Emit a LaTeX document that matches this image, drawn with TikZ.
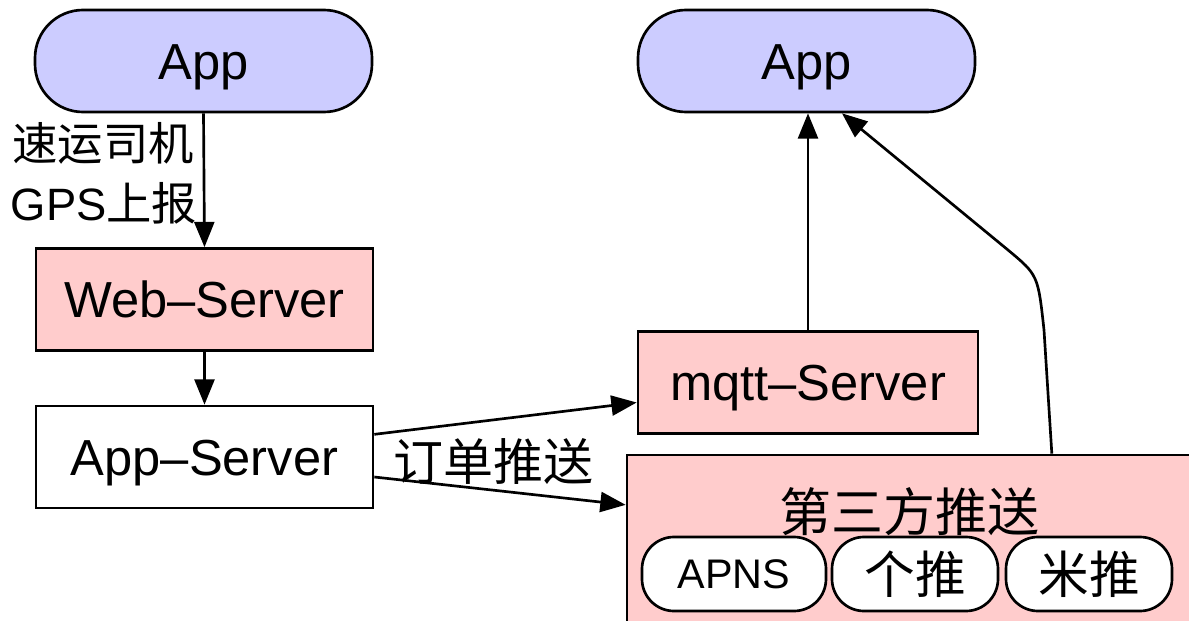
\documentclass[tikz,border=0pt]{standalone}
\usepackage{fontspec}
\setmainfont{Liberation Sans}
\newfontfamily\cjk{Noto Sans CJK SC}
\usetikzlibrary{arrows.meta}
\definecolor{appblue}{HTML}{CCCCFF}
\definecolor{srvpink}{HTML}{FFCCCC}
\begin{document}
\begin{tikzpicture}[x=0.75pt,y=-0.75pt,
  box/.style={draw, line width=2pt, inner sep=0pt, font=\fontsize{38}{44}\selectfont, text height=27.4pt, text depth=0pt},
  appnode/.style={box, fill=appblue, rounded corners=36pt, minimum width=252.75pt, minimum height=76.5pt},
  srv/.style={box, fill=srvpink, minimum width=252.75pt, minimum height=76.5pt},
  plainsrv/.style={box, fill=white, minimum width=252.75pt, minimum height=76.5pt},
  bigbox/.style={draw, line width=2pt, fill=srvpink, inner sep=0pt, minimum width=437.25pt, minimum height=138.75pt},
  sub/.style={draw, line width=2pt, fill=white, rounded corners=24pt, inner sep=0pt, minimum height=55.5pt},
  lbl/.style={inner sep=0pt, font=\fontsize{34}{40}\selectfont},
  arr/.style={line width=2pt, -{Triangle[length=19pt,width=15pt]}}
]
\useasboundingbox (0,0) rectangle (1189,621);
\clip (0,0) rectangle (1189,621);

\node[appnode] (app1) at (203.5,61) {App};
\node[appnode] (app2) at (806.5,61) {App};
\node[srv] (web) at (204.5,299.5) {Web–Server};
\node[plainsrv] (appsrv) at (204.5,457) {App–Server};
\node[srv, minimum width=255pt] (mqtt) at (808,382.5) {mqtt–Server};

\node[bigbox] (third) at (918.5,547.5) {};
\node[lbl, font=\cjk\fontsize{39}{44}\selectfont] (thirdt) at (909,512) {第三方推送};
\node[sub, minimum width=138pt, font=\fontsize{31}{36}\selectfont] (apns) at (734,574) {APNS};
\node[sub, minimum width=124.5pt, font=\cjk\fontsize{38}{44}\selectfont] (getui) at (915,574) {个推};
\node[sub, minimum width=124.5pt, font=\cjk\fontsize{38}{44}\selectfont] (mipush) at (1089,574) {米推};

\node[lbl, font=\cjk\fontsize{34}{40}\selectfont] (l1) at (103,143) {速运司机};
\node[lbl, font=\fontsize{34}{40}\selectfont] (l2) at (104,203) {GPS{\cjk 上报}};
\node[lbl, font=\cjk\fontsize{37.5}{40}\selectfont] (l3) at (493,462) {订单推送};

\draw[arr] (app1.south) -- (web.north);
\draw[arr] (web) -- (appsrv);
\draw[arr] ([yshift=17pt]appsrv.east) -- ([yshift=-15pt]mqtt.west);
\draw[arr] ([yshift=-15pt]appsrv.east) -- ([yshift=32pt]third.west);
\draw[arr] (mqtt.north) -- (mqtt.north |- app2.south);
\draw[arr] ([xshift=100pt]third.north) -- (1044,330) .. controls (1038,275) .. (1008,250) -- ([xshift=26.6pt]app2.south);
\end{tikzpicture}
\end{document}
